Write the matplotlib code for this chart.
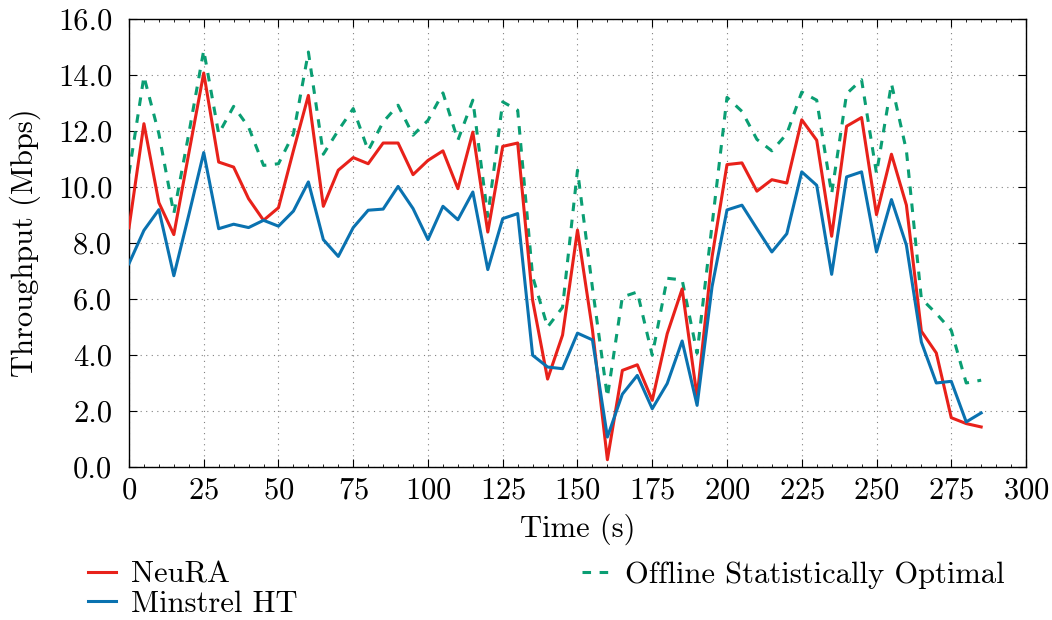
import numpy as np
import matplotlib
matplotlib.use('Agg')
import matplotlib.pyplot as plt
from matplotlib.ticker import MultipleLocator, FormatStrFormatter

plt.rcParams['font.family'] = ['cmr10', 'DejaVu Serif']
plt.rcParams['axes.formatter.use_mathtext'] = True
plt.rcParams['mathtext.fontset'] = 'cm'

# time axis (s)
t = [0, 5, 10, 15, 20, 25, 30, 35, 40, 45, 50, 55, 60, 65, 70, 75, 80, 85, 90, 95,
     100, 105, 110, 115, 120, 125, 130, 135, 140, 145, 150, 155, 160, 165, 170, 175, 180, 185, 190, 195,
     200, 205, 210, 215, 220, 225, 230, 235, 240, 245, 250, 255, 260, 265, 270, 275, 280, 285]

neura = [8.54, 12.26, 9.44, 8.3, 11.2, 14.07, 10.89, 10.71, 9.58, 8.81, 9.26, 11.3, 13.27, 9.31, 10.6, 11.05, 10.83, 11.57, 11.57, 10.44,
         10.95, 11.29, 9.94, 11.96, 8.39, 11.45, 11.57, 5.95, 3.14, 4.71, 8.46, 4.9, 0.26, 3.45, 3.65, 2.38, 4.76, 6.36, 2.5, 7.5,
         10.8, 10.86, 9.85, 10.26, 10.14, 12.4, 11.67, 8.24, 12.17, 12.48, 9.01, 11.17, 9.35, 4.85, 4.07, 1.76, 1.55, 1.43]

minstrel = [7.26, 8.45, 9.19, 6.83, 9.0, 11.23, 8.51, 8.67, 8.55, 8.81, 8.6, 9.14, 10.18, 8.12, 7.52, 8.55, 9.17, 9.21, 10.02, 9.23,
            8.12, 9.31, 8.83, 9.82, 7.05, 8.87, 9.05, 3.99, 3.57, 3.51, 4.78, 4.54, 1.07, 2.6, 3.27, 2.08, 2.98, 4.5, 2.2, 6.44,
            9.18, 9.35, 8.51, 7.68, 8.33, 10.54, 10.06, 6.88, 10.36, 10.54, 7.68, 9.55, 7.92, 4.46, 3.0, 3.06, 1.61, 1.93]

offline = [10.48, 13.95, 11.9, 9.05, 11.9, 14.88, 11.9, 12.88, 12.14, 10.77, 10.83, 11.9, 14.82, 11.17, 12.02, 12.8, 11.3, 12.32, 12.92, 11.85,
           12.38, 13.36, 11.67, 13.1, 8.95, 13.04, 12.74, 6.8, 5.0, 5.7, 10.6, 6.4, 2.5, 6.07, 6.25, 3.99, 6.74, 6.68, 4.06, 8.64,
           13.2, 12.7, 11.7, 11.29, 11.9, 13.39, 13.1, 9.76, 13.33, 13.83, 10.48, 13.69, 11.3, 6.01, 5.48, 4.88, 3.0, 3.1]

red = '#e8211a'
blue = '#0a72b0'
green = '#0a9e73'
fs = 22

fig = plt.figure(figsize=(10.52, 6.2), dpi=100)
ax = fig.add_axes([0.1226, 0.2468, 0.8527, 0.7226])

ax.plot(t, neura, color=red, lw=2.2, label='NeuRA', zorder=3)
ax.plot(t, minstrel, color=blue, lw=2.2, label='Minstrel HT', zorder=3)
ax.plot(t, offline, color=green, lw=2.2, linestyle=(0, (2.8, 2.8)), label='Offline Statistically Optimal', zorder=2)

ax.set_xlim(0, 300)
ax.set_ylim(0, 16)
ax.xaxis.set_major_locator(MultipleLocator(25))
ax.xaxis.set_minor_locator(MultipleLocator(5))
ax.yaxis.set_major_locator(MultipleLocator(2))
ax.yaxis.set_major_formatter(FormatStrFormatter('%.1f'))
ax.tick_params(which='major', direction='in', top=True, right=True, length=6, width=0.8, labelsize=fs)
ax.tick_params(axis='x', which='major', pad=7)
ax.tick_params(axis='y', which='major', pad=12)
ax.tick_params(which='minor', direction='in', top=True, right=False, length=2.5, width=0.6)
ax.tick_params(axis='y', which='minor', left=False, right=False)
ax.grid(True, which='major', linestyle=(0, (1, 4)), color='#808080', lw=0.8)
for s in ax.spines.values():
    s.set_linewidth(1.0)

ax.set_xlabel('Time (s)', fontsize=fs, labelpad=7)
ax.set_ylabel('Throughput (Mbps)', fontsize=fs, labelpad=12)

leg = ax.legend(loc='upper left', bbox_to_anchor=(-0.059, -0.183), ncol=2, frameon=False,
                fontsize=fs, handlelength=0.9, handletextpad=0.5, columnspacing=9.3,
                labelspacing=0.05, borderaxespad=0)

fig.savefig('out.png', dpi=100)
